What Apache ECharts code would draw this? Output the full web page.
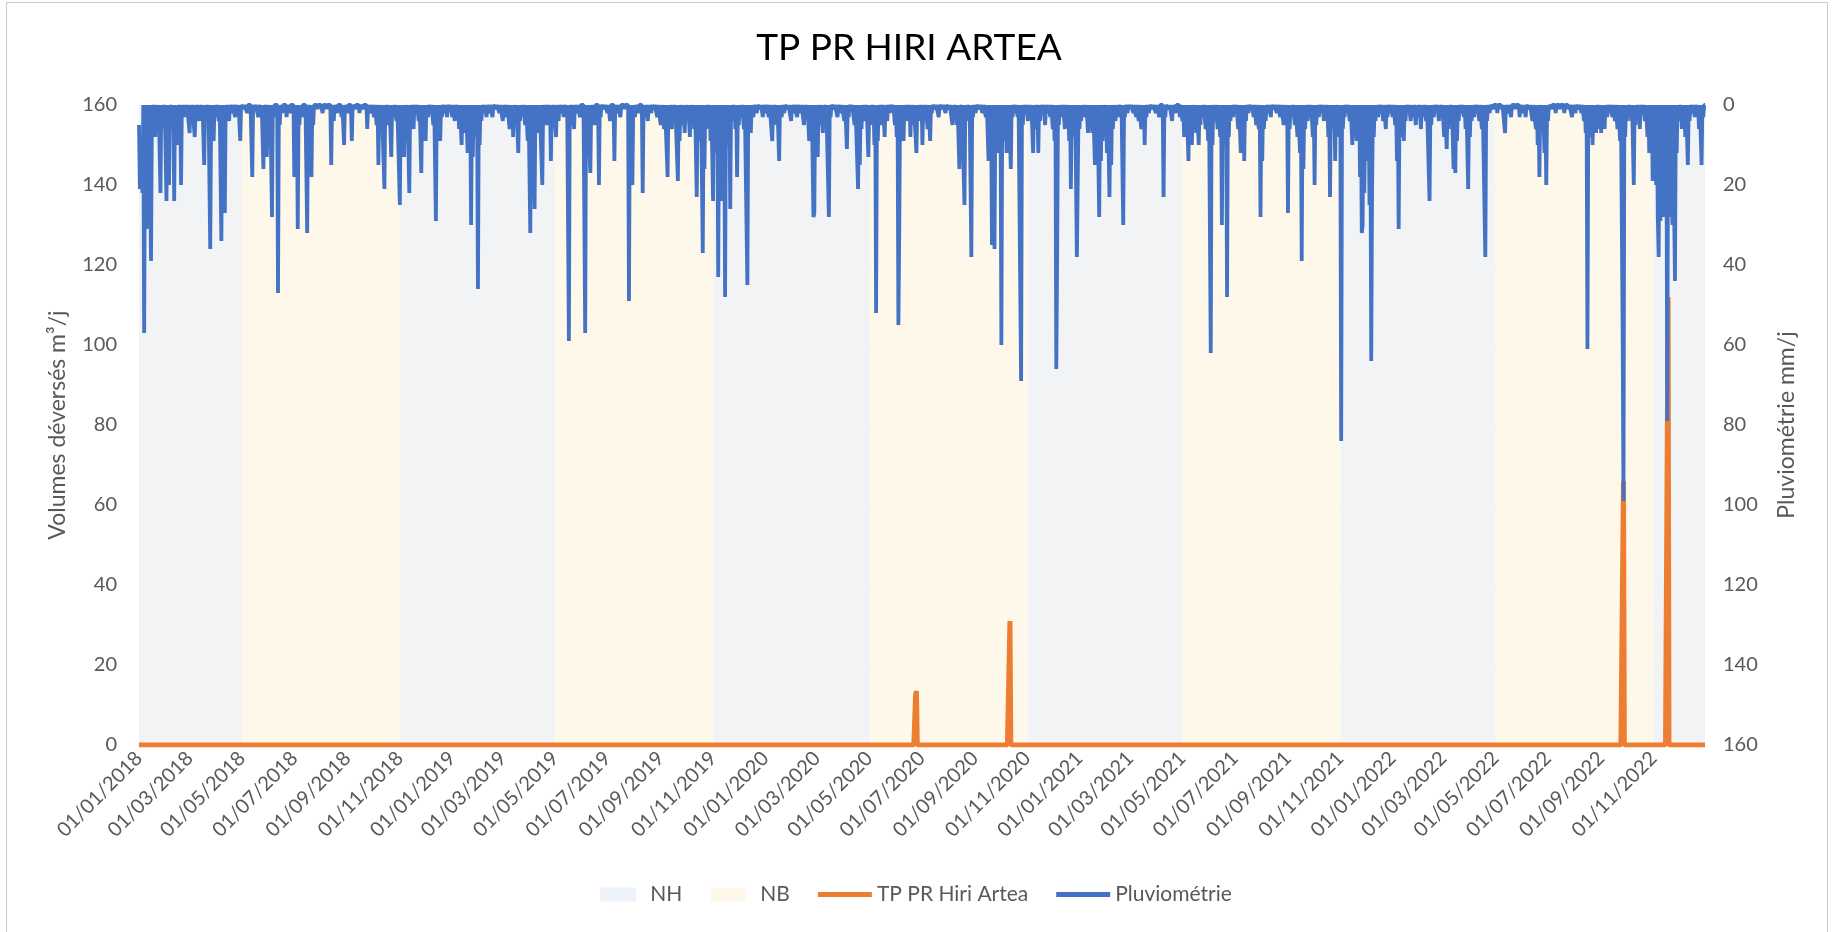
<!DOCTYPE html>
<html>
<head>
<meta charset="utf-8">
<title>TP PR HIRI ARTEA</title>
<script src="https://cdn.jsdelivr.net/npm/echarts@6/dist/echarts.min.js"></script>
<style>
  html, body { margin: 0; padding: 0; background: #fff; }
  #frame { position: absolute; left: 6px; top: 2px; width: 1822px; height: 960px; border: 1px solid #c8c8c8; box-sizing: border-box; }
  #chart { position: absolute; left: 0; top: 0; width: 1832px; height: 932px; }
</style>
</head>
<body>
<div id="frame"></div>
<div id="chart"></div>
<script>
// day axis: every day from 01/01/2018 to 31/12/2022
const firstDay = Date.UTC(2018, 0, 1)
const lastDay = Date.UTC(2022, 11, 31)
const days = []
for (let t = firstDay; t <= lastDay; t += 86400000) {
  const d = new Date(t)
  const dd = String(d.getUTCDate()).padStart(2, '0')
  const mm = String(d.getUTCMonth() + 1).padStart(2, '0')
  days.push(`${dd}/${mm}/${d.getUTCFullYear()}`)
}

const tickLabels = [
  '01/01/2018', '01/03/2018', '01/05/2018', '01/07/2018', '01/09/2018', '01/11/2018',
  '01/01/2019', '01/03/2019', '01/05/2019', '01/07/2019', '01/09/2019', '01/11/2019',
  '01/01/2020', '01/03/2020', '01/05/2020', '01/07/2020', '01/09/2020', '01/11/2020',
  '01/01/2021', '01/03/2021', '01/05/2021', '01/07/2021', '01/09/2021', '01/11/2021',
  '01/01/2022', '01/03/2022', '01/05/2022', '01/07/2022', '01/09/2022', '01/11/2022',
]

// seasons (NH = nappe haute, NB = nappe basse)
const nhPeriods = [
  ['01/01/2018', '01/05/2018'], ['01/11/2018', '01/05/2019'], ['01/11/2019', '01/05/2020'],
  ['01/11/2020', '01/05/2021'], ['01/11/2021', '01/05/2022'], ['01/11/2022', '31/12/2022'],
]
const nbPeriods = [
  ['01/05/2018', '01/11/2018'], ['01/05/2019', '01/11/2019'], ['01/05/2020', '01/11/2020'],
  ['01/05/2021', '01/11/2021'], ['01/05/2022', '01/11/2022'],
]

// overflow volumes m3/j : [day index from 01/01/2018, value], other days = 0
const overflowDays = [[905, 12.5], [906, 13.5], [1015, 31], [1730, 66], [1782, 112]]

// rainfall mm/j : [day index from 01/01/2018, mm], other days = 0
const rainDays = [
  // 2018
  [0, 5], [1, 21], [2, 18], [3, 12], [4, 22], [6, 57], [7, 8], [9, 31], [11, 6], [14, 39], [15, 4], [17, 3], [19, 8],
  [22, 4], [25, 22], [27, 6], [29, 3], [32, 24], [34, 5], [35, 20], [37, 3], [39, 6], [41, 24], [43, 4], [45, 10],
  [47, 3], [49, 20], [51, 2], [53, 3], [55, 2], [59, 7], [61, 3], [65, 8], [67, 2], [70, 4], [73, 3], [76, 15],
  [78, 4], [80, 2], [83, 36], [84, 5], [87, 9], [90, 3], [93, 4], [96, 34], [98, 6], [100, 27], [102, 3], [105, 4],
  [108, 2], [112, 3], [115, 2], [118, 9], [122, 1], [126, 2], [132, 18], [135, 1], [139, 3], [142, 2], [145, 16],
  [147, 3], [149, 13], [152, 4], [155, 28], [157, 3], [162, 47], [164, 5], [167, 2], [172, 3], [176, 2], [181, 18],
  [183, 4], [185, 31], [187, 5], [190, 3], [196, 32], [198, 3], [201, 18], [203, 5], [208, 1], [214, 2], [219, 1],
  [224, 15], [227, 4], [231, 2], [236, 3], [239, 10], [243, 2], [248, 9], [252, 1], [257, 2], [261, 1], [266, 6],
  [270, 2], [274, 3], [277, 5], [279, 15], [282, 4], [286, 21], [288, 3], [291, 5], [294, 13], [297, 3], [300, 4],
  [304, 25], [306, 5], [309, 13], [312, 4], [315, 22], [317, 3], [320, 6], [323, 2], [326, 4], [329, 17], [331, 5],
  [334, 9], [337, 3], [340, 2], [343, 5], [346, 29], [348, 4], [351, 9], [353, 3], [356, 2], [359, 3], [362, 1],
  // 2019
  [365, 3], [368, 4], [371, 2], [373, 6], [376, 10], [378, 4], [380, 7], [383, 12], [385, 5], [387, 30], [389, 13],
  [391, 8], [393, 4], [395, 46], [397, 10], [399, 4], [402, 2], [405, 3], [408, 2], [412, 3], [416, 1], [420, 2],
  [424, 4], [428, 3], [432, 6], [434, 4], [436, 8], [439, 5], [442, 12], [444, 4], [447, 3], [450, 5], [453, 9],
  [456, 32], [458, 6], [461, 26], [463, 4], [466, 7], [470, 20], [472, 3], [475, 5], [478, 2], [480, 14], [482, 3],
  [486, 8], [489, 4], [492, 2], [495, 3], [498, 2], [501, 59], [503, 3], [507, 6], [510, 2], [514, 3], [520, 57],
  [522, 4], [526, 17], [528, 3], [531, 5], [536, 20], [538, 3], [542, 1], [546, 2], [549, 4], [554, 14], [557, 2],
  [561, 3], [566, 1], [571, 49], [573, 4], [575, 20], [578, 3], [582, 2], [587, 22], [590, 3], [593, 4], [597, 2],
  [600, 1], [604, 3], [608, 5], [612, 6], [616, 18], [618, 4], [621, 6], [624, 3], [628, 19], [630, 9], [633, 5],
  [636, 7], [639, 4], [642, 8], [645, 5], [647, 6], [650, 23], [652, 4], [654, 9], [657, 37], [659, 16], [661, 6],
  [664, 3], [666, 9], [669, 24], [671, 12], [673, 8], [675, 43], [677, 5], [679, 24], [681, 12], [683, 48], [685, 10],
  [687, 5], [689, 26], [691, 4], [693, 3], [695, 6], [697, 18], [699, 5], [702, 3], [705, 6], [709, 45], [711, 4],
  [713, 7], [716, 3], [720, 2], [724, 1], [727, 3],
  // 2020
  [730, 2], [734, 3], [738, 9], [741, 3], [743, 5], [746, 14], [749, 3], [752, 2], [756, 1], [760, 4], [763, 2],
  [767, 3], [771, 2], [775, 5], [778, 3], [781, 9], [783, 4], [786, 28], [787, 27], [789, 10], [791, 13], [794, 5],
  [797, 7], [800, 3], [804, 28], [806, 3], [810, 1], [814, 3], [818, 2], [822, 4], [825, 11], [827, 3], [830, 1],
  [834, 5], [838, 21], [840, 15], [842, 6], [845, 4], [847, 3], [850, 13], [852, 5], [855, 3], [857, 10], [859, 52],
  [861, 9], [864, 5], [866, 3], [869, 8], [872, 4], [875, 2], [878, 1], [881, 5], [883, 8], [885, 55], [886, 31],
  [888, 6], [891, 9], [894, 4], [897, 3], [899, 8], [902, 5], [906, 12], [908, 4], [911, 3], [913, 10], [916, 4],
  [919, 6], [922, 9], [924, 2], [928, 1], [932, 3], [936, 1], [940, 2], [944, 1], [948, 5], [951, 3], [953, 5],
  [956, 16], [958, 3], [962, 25], [964, 4], [967, 2], [970, 38], [972, 3], [975, 2], [979, 1], [983, 2], [987, 3],
  [990, 14], [992, 6], [994, 35], [995, 20], [997, 36], [999, 8], [1001, 12], [1003, 9], [1005, 60], [1007, 9],
  [1009, 6], [1011, 12], [1013, 4], [1016, 16], [1018, 3], [1021, 2], [1024, 3], [1028, 69], [1030, 5], [1033, 2],
  [1036, 4], [1039, 3], [1042, 12], [1044, 6], [1046, 3], [1048, 12], [1050, 4], [1053, 2], [1056, 5], [1059, 2],
  [1062, 3], [1065, 6], [1067, 9], [1069, 66], [1070, 38], [1072, 5], [1074, 3], [1076, 2], [1079, 6], [1082, 4],
  [1084, 9], [1086, 21], [1088, 8], [1090, 5], [1093, 38], [1094, 19],
  // 2021
  [1096, 6], [1098, 4], [1101, 3], [1103, 2], [1106, 7], [1108, 5], [1111, 7], [1114, 15], [1116, 8], [1119, 28],
  [1121, 14], [1123, 9], [1126, 5], [1128, 12], [1131, 23], [1133, 15], [1135, 6], [1138, 4], [1141, 3], [1144, 2],
  [1147, 30], [1149, 3], [1152, 2], [1155, 1], [1159, 2], [1162, 3], [1165, 4], [1168, 6], [1170, 5], [1172, 10],
  [1174, 3], [1177, 2], [1181, 1], [1185, 2], [1189, 3], [1194, 23], [1196, 3], [1200, 1], [1204, 4], [1208, 2],
  [1213, 3], [1216, 4], [1218, 8], [1220, 5], [1223, 14], [1225, 6], [1227, 10], [1230, 4], [1232, 7], [1235, 10],
  [1237, 5], [1240, 3], [1243, 6], [1246, 9], [1249, 62], [1251, 10], [1254, 4], [1257, 6], [1260, 8], [1262, 30],
  [1264, 6], [1266, 10], [1268, 48], [1270, 8], [1272, 4], [1275, 3], [1278, 2], [1281, 6], [1284, 12], [1286, 9],
  [1288, 14], [1290, 4], [1293, 2], [1296, 1], [1299, 3], [1302, 5], [1305, 6], [1307, 28], [1309, 14], [1311, 6],
  [1313, 4], [1316, 2], [1319, 3], [1322, 1], [1326, 2], [1330, 3], [1334, 5], [1337, 4], [1339, 27], [1341, 6],
  [1344, 3], [1347, 5], [1350, 8], [1353, 12], [1355, 39], [1357, 16], [1359, 6], [1362, 4], [1365, 3], [1368, 8],
  [1370, 20], [1372, 5], [1375, 3], [1378, 2], [1381, 4], [1384, 3], [1386, 8], [1388, 23], [1390, 6], [1392, 4],
  [1394, 14], [1397, 5], [1399, 8], [1401, 84], [1403, 6], [1405, 3], [1408, 2], [1411, 4], [1414, 10], [1416, 5],
  [1419, 9], [1421, 7], [1423, 18], [1425, 32], [1426, 30], [1428, 22], [1430, 14], [1432, 8], [1434, 25],
  [1436, 64], [1437, 22], [1439, 8], [1441, 4], [1444, 3], [1447, 2], [1450, 4], [1453, 6], [1455, 3], [1458, 2],
  // 2022
  [1461, 3], [1464, 5], [1466, 14], [1468, 31], [1470, 8], [1472, 5], [1474, 9], [1476, 4], [1479, 2], [1482, 4],
  [1485, 3], [1488, 5], [1491, 3], [1494, 6], [1497, 3], [1500, 4], [1504, 24], [1506, 5], [1509, 3], [1512, 2],
  [1515, 4], [1518, 3], [1521, 8], [1524, 11], [1526, 6], [1529, 3], [1532, 16], [1534, 17], [1536, 9], [1538, 4],
  [1541, 2], [1544, 3], [1546, 6], [1549, 21], [1551, 8], [1553, 4], [1556, 3], [1559, 2], [1562, 4], [1565, 6],
  [1569, 38], [1571, 4], [1574, 2], [1578, 1], [1583, 2], [1588, 1], [1592, 7], [1595, 2], [1599, 3], [1604, 1],
  [1609, 3], [1613, 2], [1616, 3], [1620, 1], [1624, 4], [1628, 6], [1630, 10], [1632, 18], [1635, 6], [1638, 12],
  [1640, 20], [1642, 4], [1646, 1], [1651, 2], [1656, 1], [1661, 2], [1666, 1], [1670, 3], [1674, 2], [1678, 1],
  [1681, 2], [1684, 4], [1686, 7], [1688, 61], [1690, 8], [1692, 5], [1694, 10], [1696, 4], [1698, 7], [1700, 3],
  [1702, 6], [1704, 7], [1706, 4], [1708, 6], [1711, 3], [1714, 2], [1717, 3], [1720, 4], [1723, 6], [1726, 9],
  [1729, 56], [1730, 99], [1732, 8], [1734, 4], [1737, 3], [1739, 4], [1742, 20], [1744, 5], [1747, 3], [1749, 6],
  [1752, 2], [1755, 4], [1758, 8], [1760, 12], [1762, 10], [1764, 19], [1766, 14], [1768, 20], [1770, 28],
  [1771, 38], [1773, 29], [1775, 22], [1777, 28], [1779, 26], [1781, 79], [1783, 28], [1785, 24], [1787, 30],
  [1789, 26], [1790, 44], [1792, 12], [1794, 4], [1796, 3], [1798, 6], [1800, 4], [1802, 8], [1805, 15], [1807, 4],
  [1810, 2], [1813, 3], [1816, 2], [1818, 6], [1821, 15], [1823, 3],
]

const overflow = days.map(() => 0)
overflowDays.forEach(([i, v]) => { overflow[i] = v })
const rain = days.map(() => 0)
rainDays.forEach(([i, v]) => { rain[i] = v })

const textColor = '#595959'
const font = 'Lato'
const lineIcon = 'path://M0,0H54V5H0Z'
const boxIcon = 'path://M0,0H36V14H0Z'

const chart = echarts.init(document.getElementById('chart'))
chart.setOption({
  animation: false,
  textStyle: { fontFamily: font },
  title: {
    text: 'TP PR HIRI ARTEA',
    left: 904,
    top: 25,
    textAlign: 'center',
    textStyle: { fontFamily: font, fontSize: 37, fontWeight: 'normal', color: '#000' },
  },
  legend: {
    bottom: 22,
    left: 'center',
    itemWidth: 54,
    itemHeight: 14,
    itemGap: 28,
    textStyle: { fontFamily: font, fontSize: 21, color: textColor },
    data: [
      { name: 'NH', icon: boxIcon, itemStyle: { color: '#eef2f9' } },
      { name: 'NB', icon: boxIcon, itemStyle: { color: '#fef8ea' } },
      { name: 'TP PR Hiri Artea', icon: lineIcon, itemStyle: { color: '#ed7d31' } },
      { name: 'Pluviométrie', icon: lineIcon, itemStyle: { color: '#4472c4' } },
    ],
  },
  grid: { left: 139, right: 127, top: 105, bottom: 187 },
  xAxis: {
    type: 'category',
    data: days,
    boundaryGap: false,
    axisLine: { lineStyle: { color: '#d9d9d9' } },
    axisTick: { show: false },
    axisLabel: {
      interval: (idx, val) => tickLabels.includes(val),
      rotate: 45,
      margin: 10,
      fontSize: 20,
      color: textColor,
      fontFamily: font,
    },
  },
  yAxis: [
    {
      type: 'value',
      min: 0,
      max: 160,
      interval: 20,
      name: 'Volumes déversés m³/j',
      nameLocation: 'middle',
      nameRotate: 90,
      nameGap: 70,
      nameTextStyle: { fontSize: 23, color: textColor, fontFamily: font },
      axisLabel: { fontSize: 20, color: textColor, margin: 22, fontFamily: font },
      axisLine: { show: false },
      axisTick: { show: false },
      splitLine: { lineStyle: { color: '#d9d9d9', width: 1 } },
    },
    {
      type: 'value',
      min: 0,
      max: 160,
      interval: 20,
      inverse: true,
      name: 'Pluviométrie mm/j',
      nameLocation: 'middle',
      nameRotate: 90,
      nameGap: 70,
      nameTextStyle: { fontSize: 23, color: textColor, fontFamily: font },
      axisLabel: { fontSize: 20, color: textColor, margin: 18, fontFamily: font },
      axisLine: { show: false },
      axisTick: { show: false },
      splitLine: { show: false },
    },
  ],
  series: [
    {
      name: 'NH',
      type: 'line',
      data: [],
      z: -1,
      itemStyle: { color: '#eef2f9' },
      markArea: {
        silent: true,
        itemStyle: { color: '#f2f3f5' },
        data: nhPeriods.map(([a, b]) => [{ xAxis: a }, { xAxis: b }]),
      },
    },
    {
      name: 'NB',
      type: 'line',
      data: [],
      z: -1,
      itemStyle: { color: '#fef8ea' },
      markArea: {
        silent: true,
        itemStyle: { color: '#fef8ea' },
        data: nbPeriods.map(([a, b]) => [{ xAxis: a }, { xAxis: b }]),
      },
    },
    {
      name: 'TP PR Hiri Artea',
      type: 'line',
      yAxisIndex: 0,
      data: overflow,
      symbol: 'none',
      lineStyle: { color: '#ed7d31', width: 5 },
      itemStyle: { color: '#ed7d31' },
    },
    {
      name: 'Pluviométrie',
      type: 'line',
      yAxisIndex: 1,
      data: rain,
      symbol: 'none',
      lineStyle: { color: '#4472c4', width: 3.8 },
      itemStyle: { color: '#4472c4' },
    },
  ],
})
</script>
</body>
</html>
